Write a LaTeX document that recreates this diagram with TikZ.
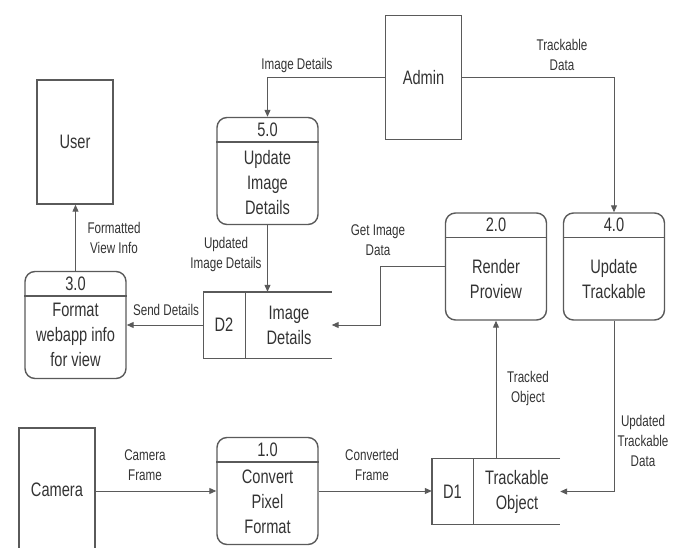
\documentclass[tikz,border=0pt]{standalone}
\usepackage{fontspec}
\setmainfont{Liberation Sans}[FakeStretch=0.75]
\usetikzlibrary{arrows.meta}
\definecolor{lc}{HTML}{5A5A5A}
\definecolor{tc}{HTML}{333333}
\tikzset{
  ent/.style={draw=lc, line width=1.4pt, minimum width=76pt, minimum height=124pt, inner sep=0pt, text=tc, font=\fontsize{19.5}{24}\selectfont},
  proc/.style={draw=lc, line width=1.4pt, rounded corners=10pt, minimum width=101pt, minimum height=107pt, inner sep=0pt},
  ptxt/.style={align=center, text=tc, font=\fontsize{19.5}{25}\selectfont, inner sep=0pt},
  store/.style={minimum width=128pt, minimum height=66pt, inner sep=0pt},
  lbl/.style={align=center, text=tc, font=\fontsize{15.5}{20}\selectfont, inner sep=0pt},
  flow/.style={draw=lc, line width=1pt, -{Triangle[length=7pt,width=6pt]}},
  edge/.style={draw=lc, line width=1.4pt},
}
\begin{document}
\begin{tikzpicture}[x=1pt,y=-1pt]
\useasboundingbox (0,0) rectangle (681,547);
% entities
\node[ent] (user) at (75,142) {User};
\node[ent] (admin) at (423.5,77.5) {Admin};
\node[ent, minimum height=122pt] (camera) at (57,489) {};
\node[ptxt] (cameratxt) at (57,490) {Camera};
% processes
\node[proc] (p5) at (267.5,171) {};
\node[proc] (p2) at (496,266.5) {};
\node[proc] (p4) at (614,266.5) {};
\node[proc] (p3) at (75.5,325) {};
\node[proc] (p1) at (267.5,491) {};
\foreach \p/\n in {p5/5.0, p2/2.0, p4/4.0, p3/3.0, p1/1.0}{
  \draw[edge] ([yshift=-25pt]\p.north west) -- ([yshift=-25pt]\p.north east);
  \node[ptxt] (\p num) at ([yshift=-12.5pt]\p.north) {\n};
}
\node[ptxt] (p5txt) at ([yshift=-12pt]p5.center) {Update\\Image\\Details};
\node[ptxt] (p2txt) at ([yshift=-13pt]p2.center) {Render\\Proview};
\node[ptxt] (p4txt) at ([yshift=-13pt]p4.center) {Update\\Trackable};
\node[ptxt] (p3txt) at ([yshift=-10pt]p3.center) {Format\\webapp info\\for view};
\node[ptxt] (p1txt) at ([yshift=-11pt]p1.center) {Convert\\Pixel\\Format};
% data stores
\node[store] (d2) at (267.5,325) {};
\node[store] (d1) at (496,491.5) {};
\foreach \d in {d2, d1}{
  \draw[edge] (\d.north east) -- (\d.north west) -- (\d.south west) -- (\d.south east);
  \draw[edge, line width=1pt] ([xshift=42pt]\d.north west) -- ([xshift=42pt]\d.south west);
}
\node[ptxt] (d2id) at (224,325) {D2};
\node[ptxt] (d2txt) at (289,325) {Image\\Details};
\node[ptxt] (d1id) at (452.5,491.5) {D1};
\node[ptxt] (d1txt) at (517,491.5) {Trackable\\Object};
% flows
\coordinate (g1) at (380,0);
\draw[flow] (admin.west) -| (p5.north);
\draw[flow] (admin.east) -| (p4.north);
\draw[flow] (p5.south) -- (p5.south |- d2.north);
\draw[flow] (p2.west) -| (g1 |- d2.east) -- (d2.east);
\draw[flow] (d2.west) -- (d2.west -| p3.east);
\draw[flow] (p3.north) -- (p3.north |- user.south);
\draw[flow] (p1.west -| camera.east) -- (p1.west);
\draw[flow] (p1.east) -- (p1.east -| d1.west);
\draw[flow] (d1.north) -- (p2.south);
\draw[flow] (p4.south) |- (d1.east);
% labels
\node[lbl] (l1) at (297,65) {Image Details};
\node[lbl] (l2) at (562,55) {Trackable\\Data};
\node[lbl] (l3) at (226,254) {Updated\\Image Details};
\node[lbl] (l4) at (378,240) {Get Image\\Data};
\node[lbl] (l5) at (166,310) {Send Details};
\node[lbl] (l6) at (114,238) {Formatted\\View Info};
\node[lbl] (l7) at (145,465) {Camera\\Frame};
\node[lbl] (l8) at (372,465) {Converted\\Frame};
\node[lbl] (l9) at (528,388) {Tracked\\Object};
\node[lbl] (l10) at (643,441) {Updated\\Trackable\\Data};
\end{tikzpicture}
\end{document}
